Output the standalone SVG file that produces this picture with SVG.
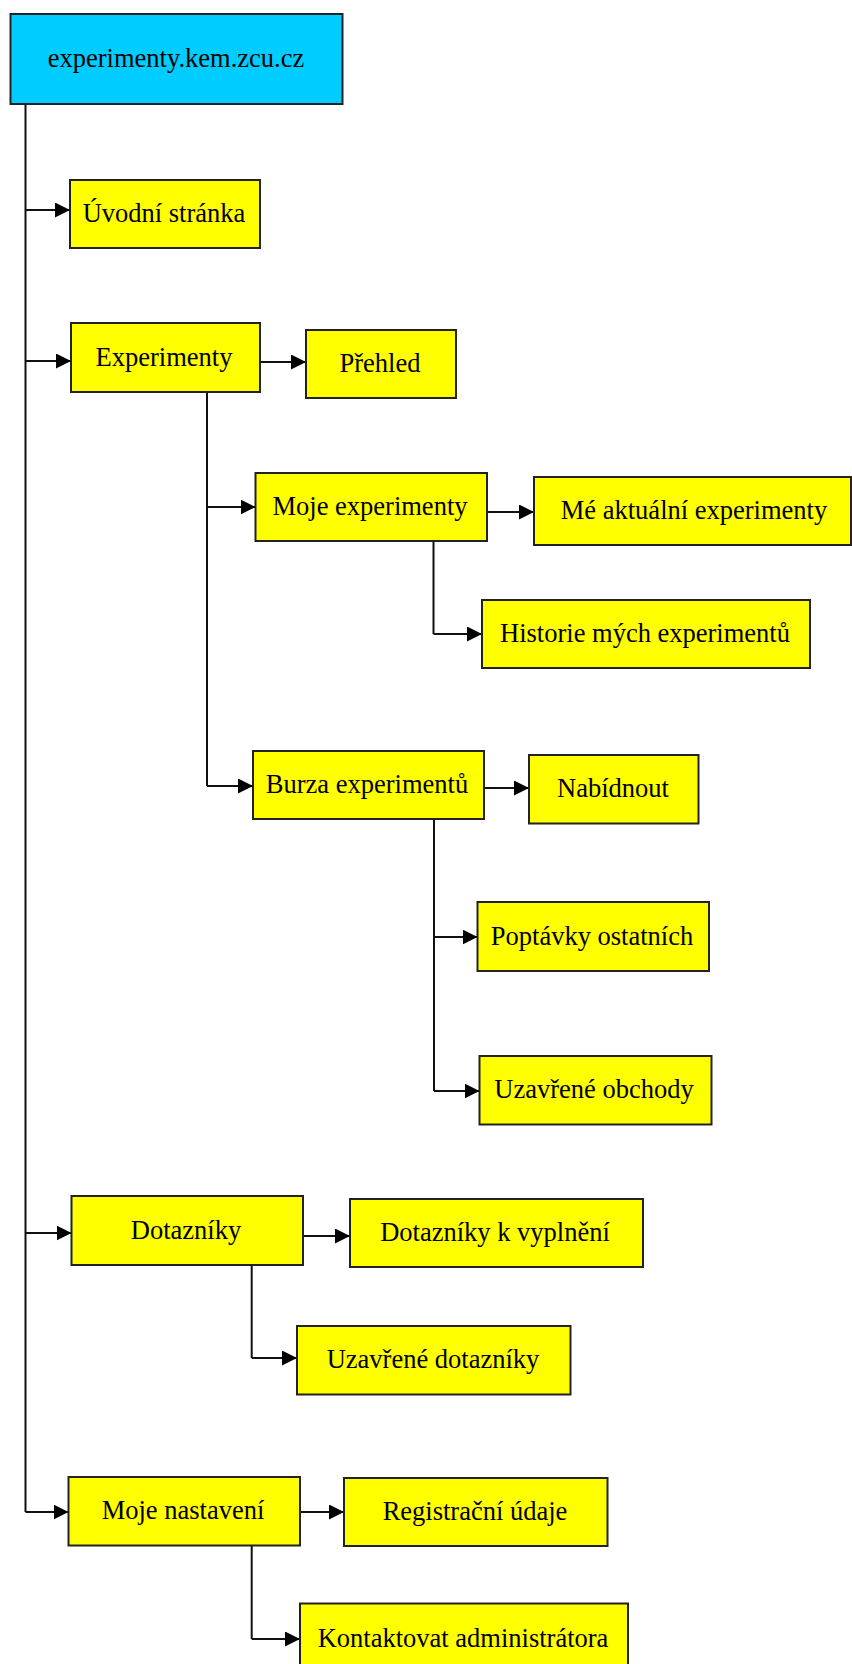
<svg xmlns="http://www.w3.org/2000/svg" width="852" height="1664" viewBox="0 0 852 1664">
  <style>
    .box { fill: #ffff00; stroke: #222; stroke-width: 2; }
    .root { fill: #00ccff; stroke: #222; stroke-width: 2; }
    .lbl { font-family: "Liberation Serif", "Times New Roman", serif; font-size: 26.5px; fill: #000; text-anchor: middle; }
    .conn { fill: none; stroke: #111; stroke-width: 2; }
  </style>
  <defs>
    <marker id="arrow" markerUnits="userSpaceOnUse" markerWidth="16" markerHeight="15" refX="15" refY="7.5" orient="auto">
      <path d="M0,0 L15,7.5 L0,15 Z" fill="#000"/>
    </marker>
  </defs>
  <rect width="852" height="1664" fill="#fff"/>

  <!-- connectors -->
  <g id="connectors">
    <!-- main trunk -->
    <path class="conn" d="M25.5,104 V1512"/>
    <path class="conn" marker-end="url(#arrow)" d="M25.5,210 H70"/>
    <path class="conn" marker-end="url(#arrow)" d="M25.5,361 H71"/>
    <path class="conn" marker-end="url(#arrow)" d="M25.5,1233 H71.5"/>
    <path class="conn" marker-end="url(#arrow)" d="M25.5,1512 H68.5"/>
    <!-- Experimenty -->
    <path class="conn" marker-end="url(#arrow)" d="M260,362 H306"/>
    <path class="conn" d="M207,392 V786"/>
    <path class="conn" marker-end="url(#arrow)" d="M207,507 H255.5"/>
    <path class="conn" marker-end="url(#arrow)" d="M207,786 H253"/>
    <!-- Moje experimenty -->
    <path class="conn" marker-end="url(#arrow)" d="M487,512 H534"/>
    <path class="conn" d="M433.5,541 V634"/>
    <path class="conn" marker-end="url(#arrow)" d="M433.5,634 H482"/>
    <!-- Burza experimentů -->
    <path class="conn" marker-end="url(#arrow)" d="M484,788 H529"/>
    <path class="conn" d="M434,819 V1091"/>
    <path class="conn" marker-end="url(#arrow)" d="M434,937 H477.5"/>
    <path class="conn" marker-end="url(#arrow)" d="M434,1091 H479.5"/>
    <!-- Dotazníky -->
    <path class="conn" marker-end="url(#arrow)" d="M303,1236 H350"/>
    <path class="conn" d="M251.7,1265 V1358"/>
    <path class="conn" marker-end="url(#arrow)" d="M251.7,1358 H297"/>
    <!-- Moje nastavení -->
    <path class="conn" marker-end="url(#arrow)" d="M300,1512 H344"/>
    <path class="conn" d="M251.7,1545 V1639"/>
    <path class="conn" marker-end="url(#arrow)" d="M251.7,1639 H300"/>
  </g>

  <g id="root">
    <rect class="root" x="10.5" y="14" width="332" height="90"/>
    <text class="lbl" x="176" y="67">experimenty.kem.zcu.cz</text>
  </g>
  <g id="uvodni-stranka">
    <rect class="box" x="70" y="180" width="190" height="68"/>
    <text class="lbl" x="164" y="222">Úvodní stránka</text>
  </g>
  <g id="experimenty">
    <rect class="box" x="71" y="323" width="189" height="69"/>
    <text class="lbl" x="164" y="366">Experimenty</text>
  </g>
  <g id="prehled">
    <rect class="box" x="306" y="330" width="150" height="68"/>
    <text class="lbl" x="380" y="372">Přehled</text>
  </g>
  <g id="moje-experimenty">
    <rect class="box" x="255.5" y="473" width="231.5" height="68"/>
    <text class="lbl" x="370" y="515">Moje experimenty</text>
  </g>
  <g id="me-aktualni-experimenty">
    <rect class="box" x="534" y="477" width="317" height="68"/>
    <text class="lbl" x="694" y="519">Mé aktuální experimenty</text>
  </g>
  <g id="historie">
    <rect class="box" x="482" y="600" width="328" height="68"/>
    <text class="lbl" x="645" y="642">Historie mých experimentů</text>
  </g>
  <g id="burza">
    <rect class="box" x="253" y="751" width="231" height="68"/>
    <text class="lbl" x="367" y="793">Burza experimentů</text>
  </g>
  <g id="nabidnout">
    <rect class="box" x="529" y="755" width="169.5" height="68.5"/>
    <text class="lbl" x="613" y="797">Nabídnout</text>
  </g>
  <g id="poptavky">
    <rect class="box" x="477.5" y="902" width="231.5" height="69"/>
    <text class="lbl" x="592" y="945">Poptávky ostatních</text>
  </g>
  <g id="uzavrene-obchody">
    <rect class="box" x="479.5" y="1056" width="232" height="68.5"/>
    <text class="lbl" x="594" y="1098">Uzavřené obchody</text>
  </g>
  <g id="dotazniky">
    <rect class="box" x="71.5" y="1196" width="231.5" height="69"/>
    <text class="lbl" x="186" y="1239">Dotazníky</text>
  </g>
  <g id="dotazniky-k-vyplneni">
    <rect class="box" x="350" y="1199" width="293" height="68"/>
    <text class="lbl" x="495" y="1241">Dotazníky k vyplnění</text>
  </g>
  <g id="uzavrene-dotazniky">
    <rect class="box" x="297" y="1326" width="273.5" height="68.5"/>
    <text class="lbl" x="433" y="1368">Uzavřené dotazníky</text>
  </g>
  <g id="moje-nastaveni">
    <rect class="box" x="68.5" y="1477" width="231.5" height="68.5"/>
    <text class="lbl" x="183" y="1519">Moje nastavení</text>
  </g>
  <g id="registracni-udaje">
    <rect class="box" x="344" y="1478" width="263.5" height="68"/>
    <text class="lbl" x="475" y="1520">Registrační údaje</text>
  </g>
  <g id="kontaktovat">
    <rect class="box" x="300" y="1603.5" width="328" height="69"/>
    <text class="lbl" x="463" y="1647">Kontaktovat administrátora</text>
  </g>
</svg>
